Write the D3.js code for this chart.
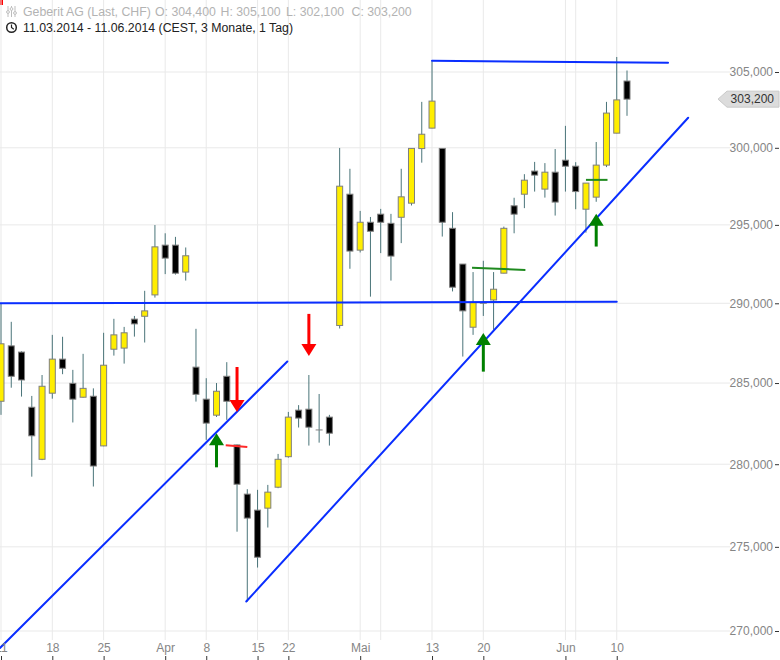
<!DOCTYPE html>
<html><head><meta charset="utf-8">
<script src="https://cdn.jsdelivr.net/npm/d3@7"></script>
<style>
html,body{margin:0;padding:0;background:#fff;overflow:hidden;}
svg{display:block;font-family:"Liberation Sans",Arial,sans-serif;}
</style></head><body>
<svg id="c" width="780" height="660"></svg>
<script>
// ---- data ----
const dates = ["2014-03-11","2014-03-12","2014-03-13","2014-03-14","2014-03-17","2014-03-18","2014-03-19","2014-03-20","2014-03-21","2014-03-24",
"2014-03-25","2014-03-26","2014-03-27","2014-03-28","2014-03-31","2014-04-01","2014-04-02","2014-04-03","2014-04-04","2014-04-07",
"2014-04-08","2014-04-09","2014-04-10","2014-04-11","2014-04-14","2014-04-15","2014-04-16","2014-04-17","2014-04-22","2014-04-23",
"2014-04-24","2014-04-25","2014-04-28","2014-04-29","2014-04-30","2014-05-02","2014-05-05","2014-05-06","2014-05-07","2014-05-08",
"2014-05-09","2014-05-12","2014-05-13","2014-05-14","2014-05-15","2014-05-16","2014-05-19","2014-05-20","2014-05-21","2014-05-22",
"2014-05-23","2014-05-26","2014-05-27","2014-05-28","2014-05-30","2014-06-02","2014-06-03","2014-06-04","2014-06-05","2014-06-06",
"2014-06-10","2014-06-11"];
const open  = [283870,287320,286930,283500,280300,284370,286490,284980,284120,284180,
281120,287110,287180,289000,289180,290530,293700,293700,291980,285990,
284000,283010,285420,281180,278180,277210,277330,278600,280460,283320,
283380,282100,282890,288600,296980,293380,295170,295690,295100,295490,
296400,299950,301290,299960,294780,292490,288490,290000,290210,291910,
296230,296980,298480,297310,298410,299190,298800,296010,296790,298870,
300960,304400];
const high  = [290000,288830,286980,284200,285500,288010,287890,285820,286820,284670,
288140,289020,288510,289200,290790,294990,294460,294230,293550,288390,
285300,285000,286300,281200,278480,278440,278740,280630,283210,283630,
285500,284320,283030,299990,298630,295900,295510,296030,295710,298630,
299970,303020,305730,299970,295820,292490,291980,292700,291980,294890,
296750,298280,299080,299000,299920,301440,299060,297700,300380,303020,
306000,305100];
const low   = [283030,284710,284160,279240,280250,284030,285550,282560,284100,278640,
281100,286710,286210,287900,287530,290360,291850,291820,291440,283850,
281490,282900,282720,275910,271740,273760,276160,278540,280400,282250,
281140,281320,281140,288410,292190,293230,290420,293190,291440,293830,
296250,299030,301280,294250,290750,286650,288010,289200,288330,291900,
294460,296080,297150,296760,295600,297150,296010,294500,296490,298740,
300950,302100];
const close = [287450,285420,285190,281740,284800,286490,285920,284000,284670,279890,
286110,288010,288140,288700,289520,293590,292870,291910,293020,284300,
282520,284490,283870,278780,276730,274380,278300,280300,282890,282830,
282270,282080,281900,297500,293320,295170,294590,295170,293000,296810,
299960,300890,303070,295170,291020,289520,290040,290000,290890,294780,
295690,297890,298220,298410,296470,298800,297150,297700,298870,302280,
303150,303200];

const xTickIdx    = [0,5,10,16,20,25,28,35,42,47,55,60];
const xTickLabels = ["11","18","25","Apr","8","15","22","Mai","13","20","Jun","10"];
const xGridIdx    = [0,5,10,16,20,25,28,35,37,42,47,55,56,60];
const yTickValues = [270000,275000,280000,285000,290000,295000,300000,305000];

// annotations in (day index, price) space
const blueLines  = [[-0.1,290000,60,290100],[42,305750,65,305610],[-0.1,269000,27.9,286340],[23.9,271740,66.96,301970]];
const redMarks   = [[21.9,281160,24.0,281060]];
const greenMarks = [[45.9,292250,51.1,292120],[57.0,297910,59.1,297910]];
const upArrows   = [[21,279810,281900],[47,285710,288120],[58,293610,295710]];   // index, tail, tip
const downArrows = [[23,286000,283210],[30,289330,286690]];

const titleText = "Geberit AG (Last, CHF)";
const ohlcText  = ["O: 304,400","H: 305,100","L: 302,100","C: 303,200"];
const rangeText = "11.03.2014 - 11.06.2014 (CEST, 3 Monate, 1 Tag)";

// ---- drawing ----
const svg = d3.select("#c");
const x = d3.scaleLinear().domain([0, 61]).range([1, 627]);
const y = d3.scaleLog().domain([270000, 305000]).range([631, 72]);
const gridColor = "#e9e9e9";

// red corner mark
svg.append("rect").attr("x",0).attr("y",0).attr("width",3).attr("height",5).attr("fill","#ff0000");

// grid
const g = svg.append("g");
g.selectAll("line.h").data(yTickValues).join("line")
  .attr("x1",0).attr("x2",730).attr("y1",d=>y(d)).attr("y2",d=>y(d))
  .attr("stroke",gridColor).attr("stroke-width",1);
g.selectAll("line.v").data(xGridIdx).join("line")
  .attr("x1",d=>x(d)).attr("x2",d=>x(d)).attr("y1",0).attr("y2",640)
  .attr("stroke",gridColor).attr("stroke-width",1);

// header
const hdr = svg.append("g");
const ic = hdr.append("g").attr("stroke","#bdbdbd").attr("fill","none").attr("stroke-width",1);
[[8,12],[11.5,9],[15,13]].forEach(([cx,cy])=>{
  ic.append("line").attr("x1",cx).attr("x2",cx).attr("y1",6).attr("y2",17);
  ic.append("circle").attr("cx",cx).attr("cy",cy).attr("r",1.4).attr("fill","#fff");
});
hdr.append("text").attr("x",23).attr("y",16).attr("font-size",12.3).attr("fill","#b3b3b3").text(titleText);
const ohlcX = [155,220.5,286,351.5];
ohlcText.forEach((t,i)=>hdr.append("text").attr("x",ohlcX[i]).attr("y",16).attr("font-size",12.3).attr("fill","#b3b3b3").text(t));
const ck = hdr.append("g").attr("stroke","#222").attr("fill","none").attr("stroke-width",1.5);
ck.append("circle").attr("cx",11.5).attr("cy",27.5).attr("r",4.8);
ck.append("polyline").attr("points","11.5,24.5 11.5,27.5 13.8,29.3").attr("stroke-width",1.2);
hdr.append("text").attr("x",23).attr("y",32).attr("font-size",12.3).attr("fill","#222").text(rangeText);

// candles
const idx = d3.range(dates.length);
const cg = svg.append("g");
cg.selectAll("line.w").data(idx).join("line")
  .attr("x1",i=>x(i)).attr("x2",i=>x(i)).attr("y1",i=>y(high[i])).attr("y2",i=>y(low[i]))
  .attr("stroke","#4a7479").attr("stroke-width",1);
idx.forEach(i=>{
  const top = y(Math.max(open[i],close[i])), bot = y(Math.min(open[i],close[i]));
  if (bot - top < 1.2) {
    cg.append("line").attr("x1",x(i)-3.5).attr("x2",x(i)+3.5).attr("y1",y(open[i])).attr("y2",y(open[i]))
      .attr("stroke","#808080").attr("stroke-width",1);
  } else {
    cg.append("rect").attr("x",x(i)-3).attr("y",top).attr("width",6).attr("height",bot-top)
      .attr("fill", close[i] > open[i] ? "#ffee00" : "#000000")
      .attr("stroke","#7f7f7f").attr("stroke-width",1);
  }
});

// annotations
const ag = svg.append("g");
ag.selectAll("line.b").data(blueLines).join("line")
  .attr("x1",d=>x(d[0])).attr("y1",d=>y(d[1])).attr("x2",d=>x(d[2])).attr("y2",d=>y(d[3]))
  .attr("stroke","#0a2eff").attr("stroke-width",2).attr("stroke-linecap","round");
ag.selectAll("line.r").data(redMarks).join("line")
  .attr("x1",d=>x(d[0])).attr("y1",d=>y(d[1])).attr("x2",d=>x(d[2])).attr("y2",d=>y(d[3]))
  .attr("stroke","#ff2a2a").attr("stroke-width",2);
ag.selectAll("line.gm").data(greenMarks).join("line")
  .attr("x1",d=>x(d[0])).attr("y1",d=>y(d[1])).attr("x2",d=>x(d[2])).attr("y2",d=>y(d[3]))
  .attr("stroke","#1f8a1f").attr("stroke-width",2);
upArrows.forEach(([i,t,p])=>{
  const xx = x(i), yt = y(t), yp = y(p);
  ag.append("line").attr("x1",xx).attr("x2",xx).attr("y1",yt).attr("y2",yp+10).attr("stroke","#008000").attr("stroke-width",3);
  ag.append("polygon").attr("points",`${xx-7.5},${yp+12} ${xx+7.5},${yp+12} ${xx},${yp}`).attr("fill","#008000");
});
downArrows.forEach(([i,t,p])=>{
  const xx = x(i), yt = y(t), yp = y(p);
  ag.append("line").attr("x1",xx).attr("x2",xx).attr("y1",yt).attr("y2",yp-10).attr("stroke","#ff0000").attr("stroke-width",3);
  ag.append("polygon").attr("points",`${xx-7.5},${yp-12} ${xx+7.5},${yp-12} ${xx},${yp}`).attr("fill","#ff0000");
});

// y axis
const yAxis = d3.axisLeft(y).tickValues(yTickValues).tickFormat(d3.format(",")).tickSize(4).tickPadding(2);
const ya = svg.append("g").attr("transform","translate(779,0)").call(yAxis);
ya.select(".domain").remove();
ya.selectAll(".tick line").attr("stroke","#333");
ya.selectAll(".tick text").attr("fill","#858585").attr("font-size",12).attr("font-family","'Liberation Sans',Arial,sans-serif");

// x axis
const xAxis = d3.axisTop(x).tickValues(xTickIdx).tickFormat((d,i)=>xTickLabels[i]).tickSize(4).tickPadding(4);
const xa = svg.append("g").attr("transform","translate(0,660)").call(xAxis);
xa.select(".domain").remove();
xa.selectAll(".tick line").attr("stroke","#333");
xa.selectAll(".tick text").attr("fill","#858585").attr("font-size",12).attr("font-family","'Liberation Sans',Arial,sans-serif");

// last price tag
const lastV = close[close.length-1], ly = y(lastV);
svg.append("polygon")
  .attr("points",`718,${ly} 727,${ly-8} 779,${ly-8} 779,${ly+8} 727,${ly+8}`)
  .attr("fill","#dcdcdc").attr("stroke","#c9c9c9").attr("stroke-width",1);
svg.append("text").attr("x",774).attr("y",ly+4.3).attr("text-anchor","end")
  .attr("font-size",12).attr("fill","#333").text(d3.format(",")(lastV));
</script>
</body></html>
